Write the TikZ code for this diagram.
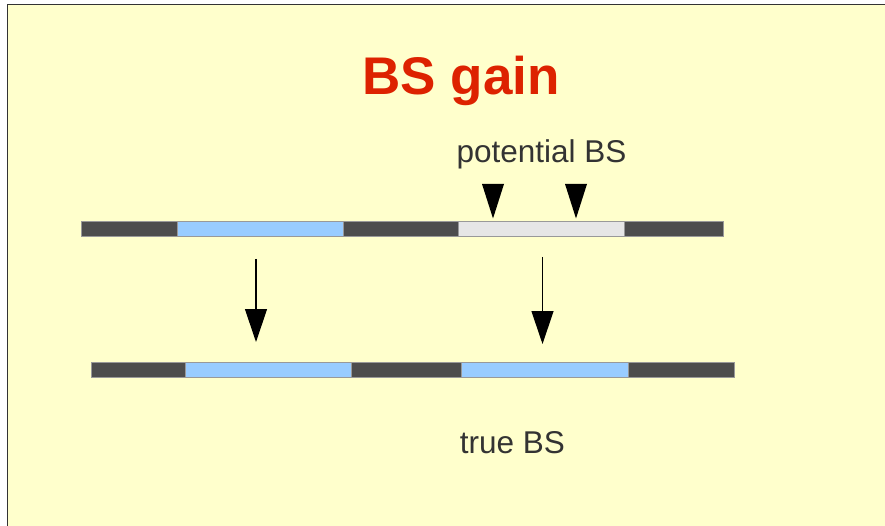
\documentclass[tikz,border=0pt]{standalone}
\usepackage{fontspec}
\setmainfont{Liberation Sans}
\usetikzlibrary{arrows.meta}

\definecolor{slide}{HTML}{FFFFCC}
\definecolor{frameline}{HTML}{333333}
\definecolor{titlered}{HTML}{DD2200}
\definecolor{chrom}{HTML}{4D4D4D}
\definecolor{site}{HTML}{99CCFF}
\definecolor{maybe}{HTML}{E6E6E6}
\definecolor{textgray}{HTML}{333333}

\tikzset{
  heading/.style={anchor=base, text=titlered, font=\fontsize{53}{58}\selectfont\bfseries},
  txt/.style={anchor=base, text=textgray, font=\fontsize{31.5}{36}\selectfont},
  seg/.style={draw=gray!80, line width=0.6pt},
  shiftarrow/.style={-{Triangle[length=33pt,width=22pt]}, line width=1.2pt, black},
}

\begin{document}
\begin{tikzpicture}[x=1pt,y=-1pt]
    \useasboundingbox (0,0) rectangle (885,526);
    % slide background with its frame
    \fill[slide] (7,4) rectangle (885,526);
    \draw[frameline, line width=1.5pt] (7.5,526) -- (7.5,4.5) -- (885,4.5);

    \node[heading] (title) at (461,95) {BS gain};
    \node[txt] (potential) at (541.5,163) {potential BS};
    \node[txt] (true) at (512.5,453) {true BS};

    % upper sequence
    \foreach \a/\b/\c in {81/177/chrom,177/343/site,343/458/chrom,458/624/maybe,624/723/chrom}
        \filldraw[seg, fill=\c] (\a,221) rectangle (\b,236);
    % lower sequence
    \foreach \a/\b/\c in {91/185/chrom,185/351/site,351/461/chrom,461/628/site,628/734/chrom}
        \filldraw[seg, fill=\c] (\a,362) rectangle (\b,377);

    % markers on the potential site
    \foreach \x in {493,576}
        \fill[black] ({\x-11},184) -- ({\x+11},184) -- (\x,218.5) -- cycle;

    \coordinate (s1) at (256,259);
    \coordinate (t1) at (256,342);
    \coordinate (s2) at (542.5,257);
    \coordinate (t2) at (542.5,344);
    \draw[shiftarrow] (s1) -- (t1);
    \draw[shiftarrow] (s2) -- (t2);
\end{tikzpicture}
\end{document}
